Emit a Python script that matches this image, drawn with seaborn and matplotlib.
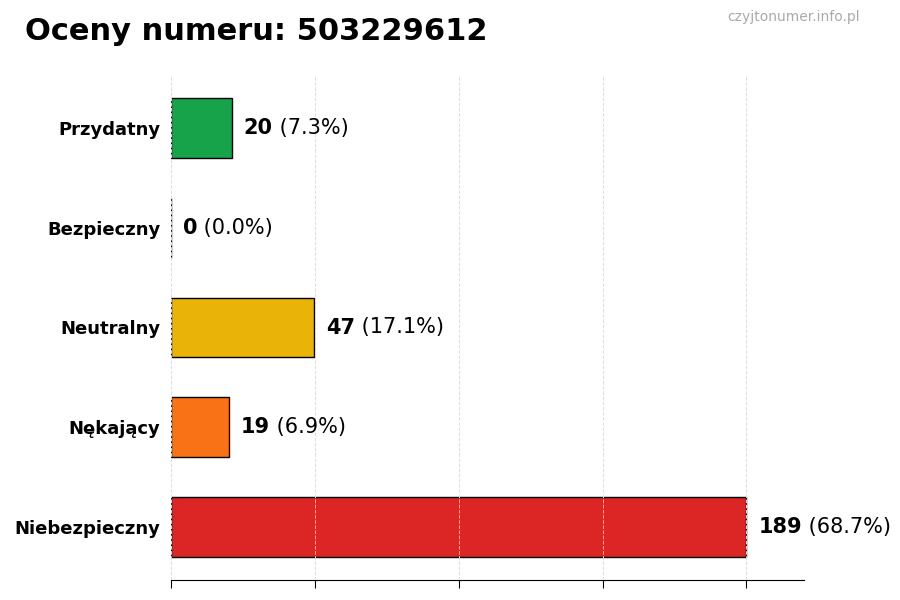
import numpy as np
import pandas as pd
import matplotlib
matplotlib.use("Agg")
import matplotlib.pyplot as plt
import seaborn as sns

#data
categories = ['Przydatny', 'Bezpieczny', 'Neutralny', 'Nękający', 'Niebezpieczny']
counts = [20, 0, 47, 19, 189]
colors = ['#16a34a', '#9ca3af', '#eab308', '#f97316', '#dc2626']
number = '503229612'

total = sum(counts)
df = pd.DataFrame({'kategoria': categories, 'liczba': counts})

sns.set_style('white')
plt.rcParams['font.family'] = ['DejaVu Sans']
plt.rcParams['text.color'] = 'black'
plt.rcParams['ytick.color'] = 'black'
plt.rcParams['xtick.color'] = 'black'

fig = plt.figure(figsize=(9, 6), dpi=100)
ax = fig.add_axes([171/900, 20/600, 633/900, 505/600])

sns.barplot(data=df, y='kategoria', x='liczba', hue='kategoria', palette=colors,
            orient='h', width=0.6, edgecolor='black', linewidth=1, legend=False,
            saturation=1, ax=ax)

mx = max(counts)
ax.set_xlim(0, mx * 1.1)
ax.set_ylim(4.53, -0.53)
ax.set_xticks(np.linspace(0, mx, 5))
ax.set_xticklabels([])
ax.grid(axis='x', linestyle='--', color='#dddddd', linewidth=0.7, zorder=5)
ax.set_axisbelow(False)
ax.set_xlabel('')
ax.set_ylabel('')
for s in ['top', 'right', 'left']:
    ax.spines[s].set_visible(False)
ax.spines['bottom'].set_color('black')
ax.tick_params(axis='y', length=4, color='black', labelsize=13, labelcolor='black')
ax.tick_params(axis='x', length=6, color='black', bottom=True)
for lab in ax.get_yticklabels():
    lab.set_fontweight('bold')

#value labels
for i, c in enumerate(counts):
    pct = c / total * 100
    t = ax.annotate(f'{c}', xy=(c, i), xytext=(8.5, 0), textcoords='offset points',
                    va='center', ha='left', fontsize=15, fontweight='bold', color='black')
    ax.annotate(f' ({pct:.1f}%)', xy=(1, 0.5), xycoords=t, va='center', ha='left',
                fontsize=15, color='black')

fig.text(25/900, 1 - 31/600, f'Oceny numeru: {number}', fontsize=22, fontweight='bold',
         va='center', ha='left', color='black')
fig.text(860/900, 1 - 17/600, 'czyjtonumer.info.pl', fontsize=10, color='#aaaaaa',
         va='center', ha='right')

fig.savefig('out.png', dpi=100)
